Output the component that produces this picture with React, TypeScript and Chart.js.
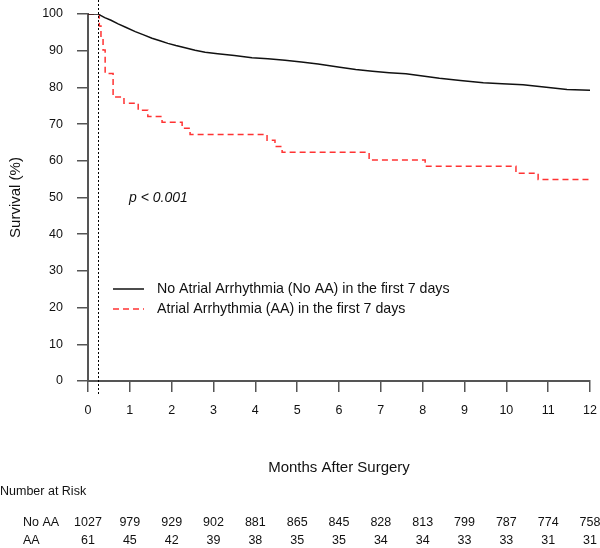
import React, { useEffect, useRef } from 'react';
import { Chart, registerables } from 'chart.js';

Chart.register(...registerables);

// ---- data ----
const monthTicks = [0, 1, 2, 3, 4, 5, 6, 7, 8, 9, 10, 11, 12];
const yTicks = [0, 10, 20, 30, 40, 50, 60, 70, 80, 90, 100];

const noAAMonths = [0, 0.25, 0.3, 0.4, 0.55, 0.72, 0.9, 1.13, 1.33, 1.53, 1.72, 1.91, 2.1, 2.32, 2.56, 2.8, 3.1, 3.5, 3.92, 4.3, 4.71, 5.1, 5.5, 6.02, 6.4, 6.8, 7.2, 7.6, 8.0, 8.4, 8.9, 9.45, 9.9, 10.4, 10.9, 11.45, 12];
const noAASurvival = [100, 100, 99.6, 99.0, 98.3, 97.3, 96.4, 95.2, 94.3, 93.4, 92.7, 92.0, 91.4, 90.8, 90.1, 89.6, 89.2, 88.7, 88.1, 87.8, 87.4, 86.9, 86.4, 85.5, 84.9, 84.4, 84.0, 83.7, 83.1, 82.5, 81.9, 81.3, 81.0, 80.7, 80.1, 79.4, 79.2];

const aaMonths = [0, 0.27, 0.31, 0.36, 0.41, 0.6, 0.86, 1.2, 1.43, 1.77, 2.25, 2.44, 4.28, 4.47, 4.64, 6.72, 8.06, 10.23, 10.76, 12];
const aaSurvival = [100, 96.7, 93.4, 90.2, 83.8, 77.4, 75.7, 73.8, 72.1, 70.5, 68.9, 67.2, 65.6, 63.9, 62.3, 60.2, 58.5, 56.6, 54.9, 54.9];

const seriesLabels = [
  'No Atrial Arrhythmia (No AA) in the first 7 days',
  'Atrial Arrhythmia (AA) in the first 7 days',
];
const riskRowLabels = ['No AA', 'AA'];
const riskNoAA = [1027, 979, 929, 902, 881, 865, 845, 828, 813, 799, 787, 774, 758];
const riskAA = [61, 45, 42, 39, 38, 35, 35, 34, 34, 33, 33, 31, 31];
const landmarkMonth = 7 / 30.44;
const pText = 'p < 0.001';
const xTitle = 'Months After Surgery';
const yTitle = 'Survival (%)';
const riskTitle = 'Number at Risk';

const FONT = "'Liberation Sans', Arial, Helvetica, sans-serif";
const AXIS_COLOR = '#555';
const RED = '#ff3333';

export default function App() {
  const ref = useRef<HTMLCanvasElement | null>(null);

  useEffect(() => {
    const canvas = ref.current;
    if (!canvas) return;

    const overlay = {
      id: 'overlay',
      afterDraw(chart: any) {
        const ctx = chart.ctx as CanvasRenderingContext2D;
        const xs = chart.scales.x;
        const area = chart.chartArea;
        ctx.save();
        // landmark dotted line
        const lx = Math.round(xs.getPixelForValue(landmarkMonth)) + 0.5;
        ctx.strokeStyle = '#000';
        ctx.lineWidth = 1;
        ctx.setLineDash([2, 2]);
        ctx.beginPath();
        ctx.moveTo(lx, 0);
        ctx.lineTo(lx, area.bottom + 15);
        ctx.stroke();
        ctx.setLineDash([]);

        // legend
        const ds = chart.data.datasets;
        const legY = [289, 309];
        for (let i = 0; i < 2; i++) {
          ctx.strokeStyle = ds[i].borderColor;
          ctx.lineWidth = 1.5;
          ctx.setLineDash(ds[i].borderDash || []);
          ctx.beginPath();
          ctx.moveTo(113, legY[i]);
          ctx.lineTo(144, legY[i]);
          ctx.stroke();
          ctx.setLineDash([]);
          ctx.fillStyle = '#111';
          ctx.font = `14.2px ${FONT}`;
          ctx.textAlign = 'left';
          ctx.textBaseline = 'middle';
          ctx.fillText(seriesLabels[i], 157, legY[i]);
        }

        // p-value
        ctx.font = `italic 14px ${FONT}`;
        ctx.fillStyle = '#111';
        ctx.textAlign = 'left';
        ctx.textBaseline = 'middle';
        ctx.fillText(pText, 129, 198);

        // x title
        ctx.font = `15px ${FONT}`;
        ctx.textAlign = 'center';
        ctx.fillText(xTitle, (area.left + area.right) / 2, 468);

        // risk table
        ctx.font = `12.5px ${FONT}`;
        ctx.textAlign = 'left';
        ctx.fillText(riskTitle, 0, 492);
        ctx.fillText(riskRowLabels[0], 23, 523);
        ctx.fillText(riskRowLabels[1], 23, 541);
        ctx.textAlign = 'center';
        monthTicks.forEach((m, i) => {
          const px = xs.getPixelForValue(m);
          ctx.fillText(String(riskNoAA[i]), px, 523);
          ctx.fillText(String(riskAA[i]), px, 541);
        });
        ctx.restore();
      },
    };

    const chart = new Chart(canvas, {
      type: 'line',
      data: {
        datasets: [
          {
            label: seriesLabels[0],
            data: noAAMonths.map((m, i) => ({ x: m, y: noAASurvival[i] })),
            borderColor: '#111',
            borderWidth: 1.5,
            pointRadius: 0,
            tension: 0,
            fill: false,
          },
          {
            label: seriesLabels[1],
            data: aaMonths.map((m, i) => ({ x: m, y: aaSurvival[i] })),
            borderColor: RED,
            borderWidth: 1.5,
            borderDash: [6, 4],
            pointRadius: 0,
            stepped: 'before',
            fill: false,
          },
        ],
      },
      options: {
        responsive: false,
        animation: false,
        events: [],
        layout: { padding: { left: 0, right: 10, top: 14, bottom: 122 } },
        plugins: { legend: { display: false }, tooltip: { enabled: false } },
        scales: {
          x: {
            type: 'linear',
            min: 0,
            max: 12,
            afterBuildTicks: (s: any) => { s.ticks = monthTicks.map((v) => ({ value: v })); },
            afterFit: (s: any) => { s.height = 45; s.paddingLeft = 0; s.paddingRight = 0; },
            grid: { drawOnChartArea: false, drawTicks: true, tickLength: 11, color: AXIS_COLOR, lineWidth: 1.5 },
            border: { display: true, color: AXIS_COLOR, width: 2 },
            ticks: { color: '#111', font: { family: FONT, size: 12.5 }, padding: 11, maxRotation: 0, autoSkip: false },
          },
          y: {
            type: 'linear',
            min: 0,
            max: 100,
            afterBuildTicks: (s: any) => { s.ticks = yTicks.map((v) => ({ value: v })); },
            afterFit: (s: any) => { s.width = 88; s.paddingTop = 0; s.paddingBottom = 0; },
            grid: { drawOnChartArea: false, drawTicks: true, tickLength: 11, color: AXIS_COLOR, lineWidth: 1.5 },
            border: { display: true, color: AXIS_COLOR, width: 2 },
            ticks: { color: '#111', font: { family: FONT, size: 12.5 }, padding: 14, autoSkip: false },
            title: { display: true, text: yTitle, color: '#111', font: { family: FONT, size: 15 }, padding: { top: 7, bottom: 0 } },
          },
        },
      },
      plugins: [overlay],
    } as any);

    return () => chart.destroy();
  }, []);

  return (
    <div style={{ position: 'fixed', left: 0, top: 0, width: 600, height: 548, background: '#fff' }}>
      <canvas ref={ref} width={600} height={548} style={{ width: 600, height: 548, display: 'block' }} />
    </div>
  );
}
